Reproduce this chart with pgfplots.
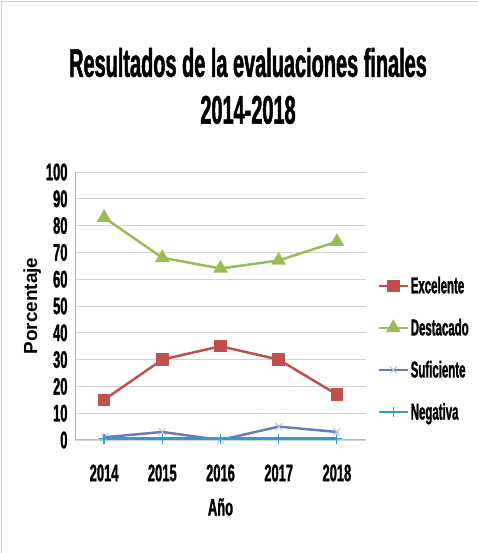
\documentclass[border=0pt]{standalone}
\usepackage{fontspec}
\setmainfont{Liberation Sans}
\newfontfamily\cond{Liberation Sans}[FakeStretch=0.54, FakeBold=1.2]
\newfontfamily\tcond{Liberation Sans}[FakeStretch=0.5, FakeBold=1.2]
\usepackage{pgfplots}
\pgfplotsset{compat=1.18}
\definecolor{exc}{HTML}{C0504D}
\definecolor{des}{HTML}{9BBB59}
\definecolor{suf}{HTML}{6C7BB8}
\definecolor{neg}{HTML}{3399C6}
\begin{document}
\begin{tikzpicture}
\useasboundingbox (0,0) rectangle (478bp,553bp);
\draw[gray!35, line width=1.5bp] (1.5bp,0) -- (1.5bp,551.5bp) -- (478bp,551.5bp);
\node[font=\tcond\bfseries\fontsize{40}{47}\selectfont, align=center] at (248bp,467bp)
  {Resultados de la evaluaciones finales\\2014-2018};
\begin{axis}[
  at={(75bp,113bp)}, anchor=south west,
  scale only axis, width=291bp, height=268bp,
  xmin=2013.5, xmax=2018.5, ymin=0, ymax=100,
  xtick=data, ytick={0,10,...,100},
  axis x line*=bottom, axis y line*=left,
  axis line style={-, gray!55, line width=1bp},
  ymajorgrids, grid style={gray!35, line width=0.8bp},
  major tick length=0pt,
  /pgf/number format/1000 sep={},
  /pgf/number format/assume math mode=true,
  ticklabel style={font=\cond\bfseries\fontsize{24}{24}\selectfont},
  xticklabel style={yshift=-21bp},
  yticklabel style={xshift=-4bp},
  xlabel={Año}, xlabel style={font=\cond\bfseries\fontsize{24}{24}\selectfont, yshift=-10bp},
  ylabel={Porcentaje}, ylabel style={font=\bfseries\fontsize{19}{19}\selectfont, yshift=-2bp},
  legend style={draw=none, fill=none, at={(1.03,0.34)}, anchor=west,
    font=\tcond\bfseries\fontsize{23}{23}\selectfont, row sep=20bp},
  legend cell align=left,
  legend image code/.code={\draw[mark repeat=2,mark phase=2] plot coordinates {(0cm,0cm) (0.5cm,0cm) (1cm,0cm)};},
  every axis plot/.append style={line width=2.5bp},
]
\addplot[exc, mark=square*, mark size=5bp] coordinates {(2014,15) (2015,30) (2016,35) (2017,30) (2018,17)};
\addlegendentry{Excelente}
\addplot[des, mark=triangle*, mark size=6bp] coordinates {(2014,83) (2015,68) (2016,64) (2017,67) (2018,74)};
\addlegendentry{Destacado}
\addplot[suf, mark=x, mark size=5bp, mark options={line width=1bp, suf!50}] coordinates {(2014,1) (2015,3) (2016,0) (2017,5) (2018,3)};
\addlegendentry{Suficiente}
\addplot[neg, mark=+, mark size=5bp, mark options={line width=1.2bp}] coordinates {(2014,0.5) (2015,0.5) (2016,0.5) (2017,0.5) (2018,0.5)};
\addlegendentry{Negativa}
\end{axis}
\end{tikzpicture}
\end{document}
